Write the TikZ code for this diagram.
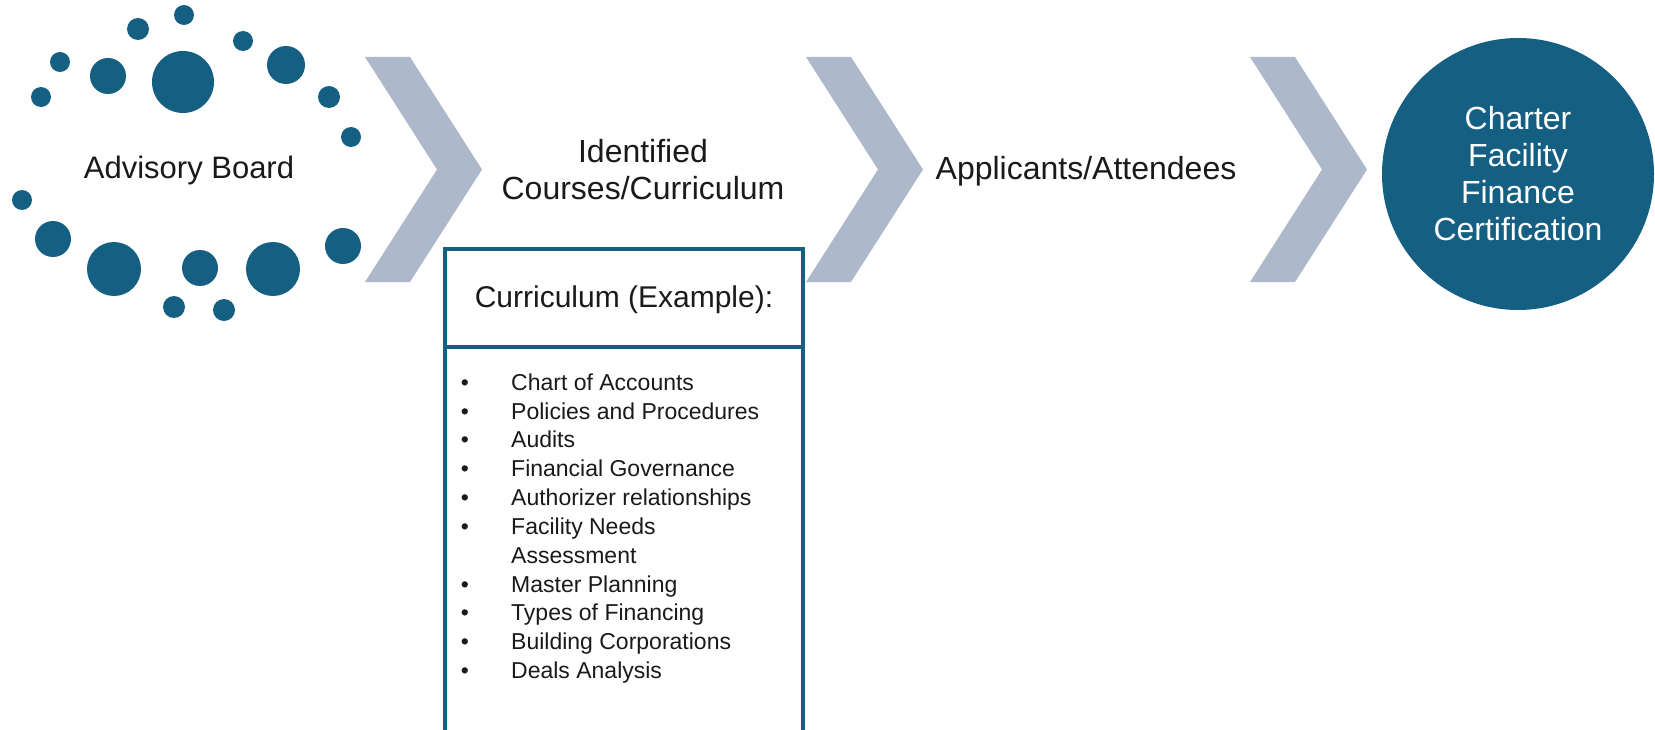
\documentclass[tikz,border=0pt]{standalone}
\usepackage{fontspec}
\setmainfont{Liberation Sans}
\definecolor{dotblue}{HTML}{156082}
\definecolor{chev}{HTML}{ADB9CA}
\definecolor{ink}{HTML}{1A1A1A}
\begin{document}
\begin{tikzpicture}[x=1pt,y=-1pt,
  dot/.style={fill=dotblue},
  chevron/.style={fill=chev},
  head/.style={font=\fontsize{32}{37}\selectfont, text=ink, align=center, inner sep=0pt},
  boxline/.style={draw=dotblue, line width=3.2pt},
  itemtext/.style={font=\fontsize{23}{28}\selectfont, text=ink, anchor=base west, inner sep=0pt},
  bul/.style={font=\fontsize{23}{28}\selectfont, text=ink, anchor=base, inner sep=0pt}
]
\useasboundingbox (0,0) rectangle (1655,730);
\fill[white] (0,0) rectangle (1655,730);

% ring of dots
\foreach \x/\y/\r in {184/15/10, 138/29/11, 243/41/10, 60/62/10, 108/76/18, 183/82/31,
  286/65/19, 41/97/10, 329/97/11, 351/137/10, 22/200/10, 53/239/18, 114/269/27,
  200/268/18, 273/269/27, 343/246/18, 174/307/11, 224/310/11}
  \fill[dot] (\x,\y) circle[radius=\r pt];

% chevrons
\foreach \L in {365,806,1250}
  \fill[chevron] (\L,57) -- (\L+45,57) -- (\L+117,169.5) -- (\L+45,282) -- (\L,282) -- (\L+72,169.5) -- cycle;

% stage labels
\node[head, font=\fontsize{31}{37}\selectfont] (advisory) at (189,170) {Advisory Board};
\node[head] (courses) at (643,170) {Identified\\Courses/Curriculum};
\node[head] (applicants) at (1086,171) {Applicants/Attendees};
\node[circle, fill=dotblue, minimum size=272pt, inner sep=0pt, text=white, align=center,
  font=\fontsize{32}{37}\selectfont] (cert) at (1518,174) {Charter\\Facility\\Finance\\Certification};

% curriculum box
\coordinate (boxbl) at (445,730);
\coordinate (boxbr) at (803,730);
\coordinate (boxtl) at (445,249);
\coordinate (boxtr) at (803,249);
\coordinate (divl) at (445,347);
\coordinate (divr) at (803,347);
\draw[boxline] (boxbl) -- (boxtl) -- (boxtr) -- (boxbr);
\draw[boxline] (divl) -- (divr);
\node[head, font=\fontsize{30}{36}\selectfont] (hdr) at (624,300) {Curriculum (Example):};

% list
\foreach \i/\y/\t in {1/382/Chart of Accounts, 2/411/Policies and Procedures, 3/439.6/Audits,
  4/468/Financial Governance, 5/497/Authorizer relationships, 6/526/Facility Needs,
  8/584/Master Planning, 9/612/Types of Financing, 10/641/Building Corporations,
  11/670/Deals Analysis}
{
  \node[bul] (bul\i) at (465,\y+8) {•};
  \node[itemtext] (item\i) at (511,\y+8) {\t};
}
\node[itemtext] (item7) at (511,555+8) {Assessment};
\end{tikzpicture}
\end{document}
